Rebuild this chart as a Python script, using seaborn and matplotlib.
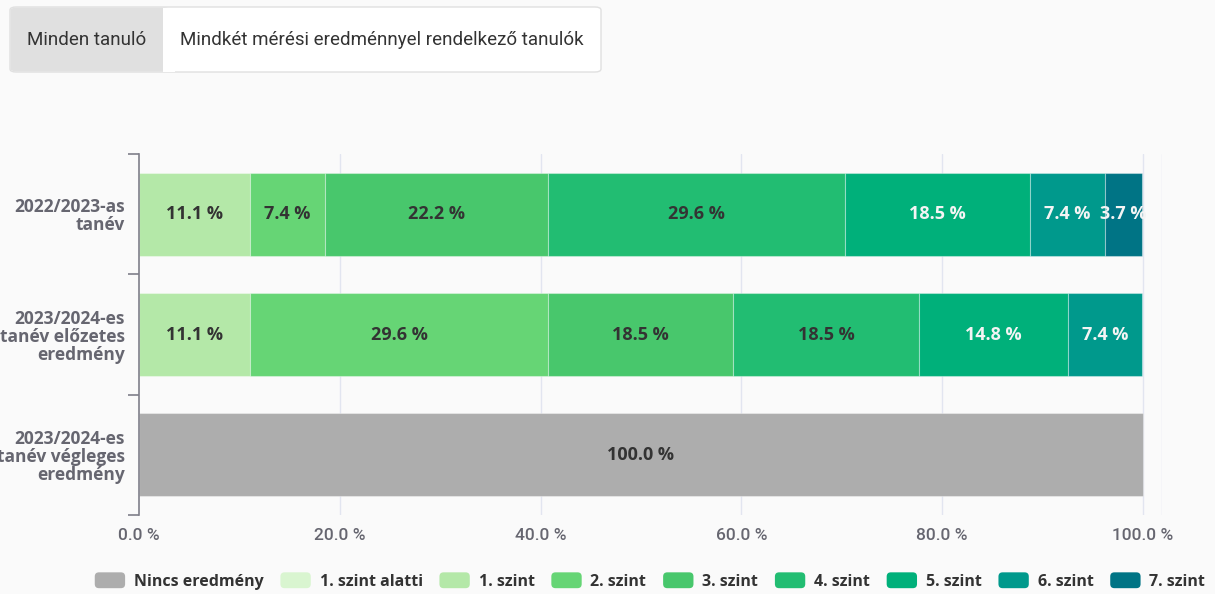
import numpy as np
import pandas as pd
import matplotlib
matplotlib.use("Agg")
import matplotlib.pyplot as plt
import seaborn as sns
from matplotlib.patches import FancyBboxPatch, Rectangle, Patch
from matplotlib.legend_handler import HandlerPatch

# ---------------- data ----------------
categories = ["2022/2023-as\ntanév",
              "2023/2024-es\ntanév előzetes\neredmény",
              "2023/2024-es\ntanév végleges\neredmény"]
levels = ["Nincs eredmény", "1. szint alatti", "1. szint", "2. szint", "3. szint",
          "4. szint", "5. szint", "6. szint", "7. szint"]
row_2022 = [0, 0, 11.1, 7.4, 22.2, 29.6, 18.5, 7.4, 3.7]
row_2024_pre = [0, 0, 11.1, 29.6, 18.5, 18.5, 14.8, 7.4, 0]
row_2024_final = [100.0, 0, 0, 0, 0, 0, 0, 0, 0]
x_ticks = [0, 20, 40, 60, 80, 100]
x_tick_labels = ["0.0 %", "20.0 %", "40.0 %", "60.0 %", "80.0 %", "100.0 %"]
tabs = ["Minden tanuló", "Mindkét mérési eredménnyel rendelkező tanulók"]

colors = ["#adadad", "#d9f5d0", "#b4e8a8", "#66d575", "#48c76c",
          "#22bd72", "#00b07a", "#00998c", "#007485"]
light_text_levels = {"5. szint", "6. szint", "7. szint"}

rows = [row_2022, row_2024_pre, row_2024_final]
records = []
for cat, vals in zip(categories, rows):
    left = 0.0
    for lev, v in zip(levels, vals):
        records.append({"cat": cat, "level": lev, "value": v, "left": left})
        left += v
df = pd.DataFrame(records)
df["cat"] = pd.Categorical(df["cat"], categories=categories, ordered=True)

# ---------------- figure ----------------
BG = "#fafafa"
sns.set_theme(style="white")
plt.rcParams["font.family"] = ["Open Sans", "DejaVu Sans"]

W, H = 1215, 594
fig = plt.figure(figsize=(W / 100, H / 100), dpi=100)
fig.patch.set_facecolor(BG)

def fx(px):
    return px / W

def fy(py):
    return 1 - py / H

ax = fig.add_axes([fx(139), fy(515), fx(1162) - fx(139), fy(154) - fy(515)])
ax.set_facecolor(BG)

XMAX = 101.9
grid_color = "#e2e5f0"
for t in x_ticks[1:] + [XMAX]:
    ax.axvline(t, color=grid_color, lw=1.0, zorder=0)

for lev, col in zip(levels, colors):
    sub = df[(df["level"] == lev) & (df["value"] > 0)].sort_values("cat")
    if sub.empty:
        continue
    sns.barplot(data=sub, x="value", y="cat", order=categories, orient="h",
                left=sub["left"].values, color=col, saturation=1, width=0.69,
                errorbar=None, edgecolor=(1, 1, 1, 0.35), linewidth=0.8,
                ax=ax, zorder=2)
    tcol = "#f4f4f4" if lev in light_text_levels else "#333333"
    for _, r in sub.iterrows():
        yi = categories.index(r["cat"])
        ax.text(r["left"] + r["value"] / 2, yi, f"{r['value']:.1f} %",
                ha="center", va="center", fontsize=13, fontweight="bold",
                color=tcol, zorder=5)

ax.set_xlim(0, XMAX)
ax.set_ylim(2.5, -0.5)
ax.set_xlabel("")
ax.set_ylabel("")

# x axis
ax.set_xticks(x_ticks)
ax.set_xticklabels(x_tick_labels, fontsize=12.5, color="#666670",
                   family=["Roboto", "DejaVu Sans"], fontweight="medium")
ax.tick_params(axis="x", length=0, pad=9)

# y axis
ax.set_yticks([-0.5, 0.5, 1.5, 2.5])
ax.set_yticklabels([])
ax.tick_params(axis="y", which="major", length=8, width=1.2, color="#7f7f8a",
               direction="out", left=True)
ax.set_yticks([0, 1, 2], minor=True)
ax.set_yticklabels(categories, minor=True, fontsize=12.5, fontweight="bold",
                   color="#666670", ha="right", linespacing=1.0)
ax.tick_params(axis="y", which="minor", length=0, pad=10)

for s in ["top", "right", "bottom"]:
    ax.spines[s].set_visible(False)
ax.spines["left"].set_color("#7f7f8a")
ax.spines["left"].set_linewidth(1.2)

# ---------------- legend ----------------
class RoundHandler(HandlerPatch):
    def create_artists(self, legend, orig_handle, xdescent, ydescent, width,
                       height, fontsize, trans):
        p = FancyBboxPatch((-xdescent, -ydescent), width, height,
                           boxstyle="round,pad=0,rounding_size=3",
                           facecolor=orig_handle.get_facecolor(),
                           edgecolor="none", transform=trans)
        return [p]

handles = [Patch(facecolor=c, label=l) for l, c in zip(levels, colors)]
leg = fig.legend(handles=handles, loc="center", bbox_to_anchor=(fx(650), fy(581)),
                 ncol=len(levels), frameon=False, fontsize=11.5,
                 handlelength=1.9, handleheight=1.15, handletextpad=0.55,
                 columnspacing=1.05, handler_map={Patch: RoundHandler()})
for t in leg.get_texts():
    t.set_fontweight("bold")
    t.set_color("#333333")

# ---------------- tab buttons ----------------
outer = FancyBboxPatch((fx(10), fy(72)), fx(601) - fx(10), fy(7) - fy(72),
                       boxstyle="round,pad=0,rounding_size=0.005",
                       transform=fig.transFigure, facecolor="white",
                       edgecolor="#e0e0e0", lw=1, zorder=1)
fig.patches.append(outer)
gray = FancyBboxPatch((fx(10.5), fy(71.5)), fx(170) - fx(10.5), fy(7.5) - fy(71.5),
                      boxstyle="round,pad=0,rounding_size=0.005",
                      transform=fig.transFigure, facecolor="#e0e0e0",
                      edgecolor="none", zorder=2)
fig.patches.append(gray)
cover = Rectangle((fx(163), fy(71.5)), fx(175) - fx(163), fy(7.5) - fy(71.5),
                  transform=fig.transFigure, facecolor="white", edgecolor="none",
                  zorder=3)
fig.patches.append(cover)
fig.text(fx(87), fy(40), tabs[0], ha="center", va="center", fontsize=13.5,
         color="#333333", family=["Roboto", "DejaVu Sans"])
fig.text(fx(382), fy(40), tabs[1], ha="center", va="center", fontsize=13.5,
         color="#333333", family=["Roboto", "DejaVu Sans"])

fig.savefig("out.png", dpi=100, facecolor=BG)
